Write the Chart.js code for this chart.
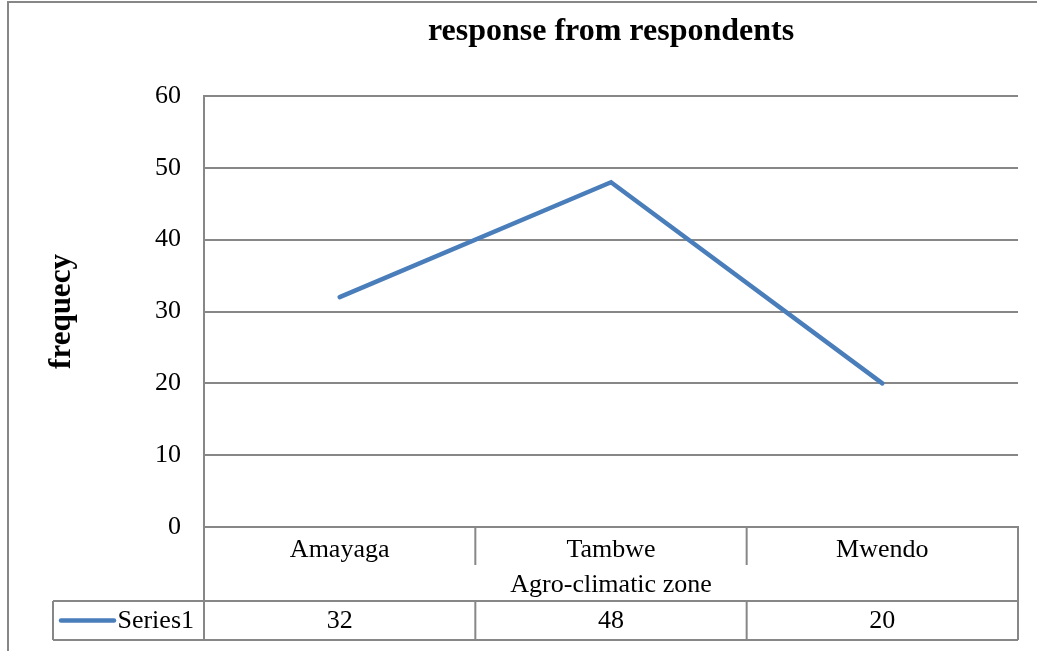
<!DOCTYPE html>
<html>
<head>
<meta charset="utf-8">
<script src="https://cdn.jsdelivr.net/npm/chart.js@4/dist/chart.umd.min.js"></script>
<style>
  html, body { margin: 0; padding: 0; background: #fff; }
  #wrap { width: 1037px; height: 651px; position: relative; }
</style>
</head>
<body>
<div id="wrap"><canvas id="chart"></canvas></div>
<script>
const categories = ['Amayaga', 'Tambwe', 'Mwendo'];
const series1 = [32, 48, 20];
const seriesName = 'Series1';
const yTicks = [0, 10, 20, 30, 40, 50, 60];

const serif = 'Liberation Serif';
const gray = '#878787';
const blue = '#4A7EBB';

// data table under the plot (Excel style)
const dataTable = {
    id: 'dataTable',
    afterDraw(chart) {
        const { ctx, chartArea } = chart;
        const x = chart.scales.x;
        const n = categories.length;
        const bound = i => x.getPixelForValue(i - 0.5);
        const top = chartArea.bottom;
        const catBottom = 565;
        const rowTop = 601;
        const rowBottom = 640;
        const legendLeft = 53;

        ctx.save();
        ctx.strokeStyle = gray;
        ctx.lineWidth = 2;
        ctx.beginPath();
        // outer frame
        ctx.moveTo(8, 651); ctx.lineTo(8, 2); ctx.lineTo(1037, 2);
        // left edge of table
        ctx.moveTo(bound(0), top); ctx.lineTo(bound(0), rowBottom);
        // right edge
        ctx.moveTo(bound(n), top); ctx.lineTo(bound(n), rowBottom);
        for (let i = 1; i < n; i++) {
            ctx.moveTo(bound(i), top); ctx.lineTo(bound(i), catBottom);
            ctx.moveTo(bound(i), rowTop); ctx.lineTo(bound(i), rowBottom);
        }
        ctx.moveTo(legendLeft, rowTop); ctx.lineTo(bound(n), rowTop);
        ctx.moveTo(legendLeft, rowBottom); ctx.lineTo(bound(n), rowBottom);
        ctx.moveTo(legendLeft, rowTop); ctx.lineTo(legendLeft, rowBottom);
        ctx.stroke();

        const midY = (rowTop + rowBottom) / 2;
        // legend key
        ctx.strokeStyle = blue;
        ctx.lineWidth = 4.5;
        ctx.lineCap = 'round';
        ctx.beginPath();
        ctx.moveTo(61, midY); ctx.lineTo(114, midY);
        ctx.stroke();

        ctx.fillStyle = '#000';
        ctx.font = '26px "' + serif + '"';
        ctx.textBaseline = 'middle';
        ctx.textAlign = 'right';
        ctx.fillText(seriesName, bound(0) - 10, midY + 1);
        ctx.textAlign = 'center';
        series1.forEach((v, i) => {
            ctx.fillText(String(v), x.getPixelForValue(i), midY + 1);
        });
        ctx.restore();
    }
};

new Chart(document.getElementById('chart'), {
    type: 'line',
    data: {
        labels: categories,
        datasets: [{
            label: seriesName,
            data: series1,
            borderColor: blue,
            backgroundColor: blue,
            borderWidth: 4.5,
            borderCapStyle: 'round',
            pointRadius: 0,
            tension: 0
        }]
    },
    options: {
        responsive: true,
        maintainAspectRatio: false,
        animation: false,
        layout: { padding: { left: 0, right: 19, top: 0, bottom: 0 } },
        plugins: {
            legend: { display: false },
            tooltip: { enabled: false },
            title: {
                display: true,
                text: 'response from respondents',
                fullSize: false,
                color: '#000',
                font: { family: serif, size: 32, weight: 'bold' },
                padding: { top: 13, bottom: 44.6 }
            }
        },
        scales: {
            x: {
                offset: true,
                grid: { display: false },
                border: { display: true, color: gray, width: 2 },
                ticks: { color: '#000', font: { family: serif, size: 26 }, padding: 0 },
                title: {
                    display: true,
                    text: 'Agro-climatic zone',
                    color: '#000',
                    font: { family: serif, size: 26 },
                    padding: { top: 0, bottom: 50 }
                },
                afterFit(scale) { scale.height = 124; }
            },
            y: {
                min: 0,
                max: 60,
                afterBuildTicks(scale) { scale.ticks = yTicks.map(v => ({ value: v })); },
                grid: { color: gray, lineWidth: 2, drawTicks: false },
                border: { display: true, color: gray, width: 2 },
                ticks: { color: '#000', font: { family: serif, size: 26 }, padding: 23 },
                title: {
                    display: true,
                    text: 'frequecy',
                    color: '#000',
                    font: { family: serif, size: 31, weight: 'bold' },
                    padding: { top: 43, bottom: 0 }
                },
                afterFit(scale) { scale.width = 204; }
            }
        }
    },
    plugins: [dataTable]
});
</script>
</body>
</html>
